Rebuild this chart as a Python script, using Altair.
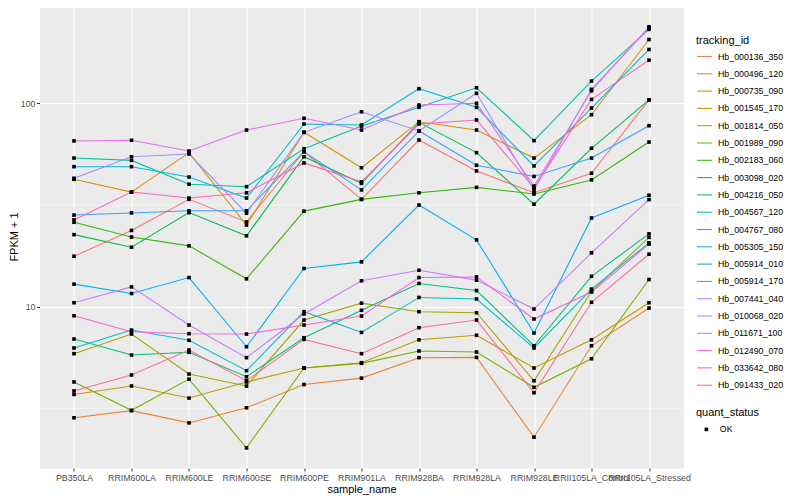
import altair as alt
import pandas as pd

samples = ["PB350LA", "RRIM600LA", "RRIM600LE", "RRIM600SE", "RRIM600PE", "RRIM901LA",
           "RRIM928BA", "RRIM928LA", "RRIM928LE", "RRII105LA_Control", "RRII105LA_Stressed"]

# FPKM + 1 per tracking id, one value per sample
hb_000136_350 = [17.7, 23.7, 33.7, 26.1, 57.8, 33.7, 66.0, 46.5, 36.3, 45.3, 104]
hb_000496_120 = [2.84, 3.08, 2.68, 3.18, 4.14, 4.45, 5.61, 5.63, 2.28, 6.42, 9.84]
hb_000735_090 = [42.3, 36.6, 57.2, 25.2, 72.0, 48.2, 81.2, 73.9, 53.8, 87.9, 206]
hb_001545_170 = [3.70, 4.07, 3.55, 4.26, 4.99, 5.30, 6.87, 7.23, 4.99, 6.87, 10.45]
hb_001814_050 = [5.87, 7.33, 4.66, 4.07, 8.59, 10.4, 9.44, 9.33, 4.32, 11.9, 21.9]
hb_001989_090 = [4.26, 3.09, 4.40, 2.02, 4.99, 5.26, 6.05, 5.98, 4.01, 5.54, 13.6]
hb_002183_060 = [26.0, 22.0, 19.9, 13.7, 29.5, 33.7, 36.3, 38.6, 35.8, 42.0, 64.5]
hb_003098_020 = [22.6, 19.6, 29.0, 22.3, 54.6, 40.4, 80.6, 57.2, 31.9, 60.1, 104]
hb_004216_050 = [6.93, 5.78, 5.96, 4.52, 7.03, 9.59, 13.0, 12.0, 6.42, 14.1, 22.8]
hb_004567_120 = [53.8, 52.4, 40.0, 38.9, 59.8, 77.3, 95.6, 119.3, 65.5, 128.7, 231]
hb_004767_080 = [6.26, 7.67, 6.83, 4.84, 9.44, 7.47, 11.1, 10.9, 6.26, 12.2, 20.6]
hb_005305_150 = [48.8, 48.8, 43.4, 34.2, 79.1, 78.2, 118.0, 95.6, 49.2, 94.8, 184]
hb_005914_010 = [12.9, 11.6, 13.9, 6.35, 15.4, 16.6, 31.6, 21.3, 7.42, 27.3, 35.3]
hb_005914_170 = [28.2, 28.9, 29.6, 29.6, 57.8, 37.5, 73.1, 49.6, 43.7, 53.8, 77.6]
hb_007441_040 = [42.8, 54.6, 56.3, 28.8, 72.0, 90.9, 73.1, 112.0, 37.5, 117.2, 235]
hb_010068_020 = [10.45, 12.5, 8.12, 5.61, 9.20, 13.4, 15.1, 13.5, 9.73, 18.4, 33.6]
hb_011671_100 = [65.3, 65.8, 58.3, 73.9, 84.4, 73.9, 98.1, 100, 39.2, 115.3, 238]
hb_012490_070 = [9.02, 7.53, 7.36, 7.33, 8.12, 8.99, 13.9, 14.0, 8.69, 11.8, 20.3]
hb_033642_080 = [26.7, 36.6, 34.2, 36.3, 50.9, 41.1, 79.1, 82.8, 38.3, 104.6, 163]
hb_091433_020 = [3.85, 4.61, 6.12, 4.32, 6.90, 5.87, 7.88, 8.59, 3.77, 10.5, 18.1]

tracking_ids = ["Hb_000136_350", "Hb_000496_120", "Hb_000735_090", "Hb_001545_170",
                "Hb_001814_050", "Hb_001989_090", "Hb_002183_060", "Hb_003098_020",
                "Hb_004216_050", "Hb_004567_120", "Hb_004767_080", "Hb_005305_150",
                "Hb_005914_010", "Hb_005914_170", "Hb_007441_040", "Hb_010068_020",
                "Hb_011671_100", "Hb_012490_070", "Hb_033642_080", "Hb_091433_020"]
series = [hb_000136_350, hb_000496_120, hb_000735_090, hb_001545_170, hb_001814_050,
          hb_001989_090, hb_002183_060, hb_003098_020, hb_004216_050, hb_004567_120,
          hb_004767_080, hb_005305_150, hb_005914_010, hb_005914_170, hb_007441_040,
          hb_010068_020, hb_011671_100, hb_012490_070, hb_033642_080, hb_091433_020]
palette = ["#F8766D", "#EA8331", "#D89000", "#C09B00", "#A3A500", "#7CAE00", "#39B600",
           "#00BB4E", "#00BF7D", "#00C1A3", "#00BFC4", "#00BAE0", "#00B0F6", "#35A2FF",
           "#9590FF", "#C77CFF", "#E76BF3", "#FA62DB", "#FF62BC", "#FF6C91"]
minor_breaks = [3.1623, 31.623]
major_breaks = [10, 100]

rows = []
for tid, vals in zip(tracking_ids, series):
    for s, v in zip(samples, vals):
        rows.append({"tracking_id": tid, "sample_name": s, "fpkm1": v, "quant_status": "OK"})
df = pd.DataFrame(rows)
minor_df = pd.DataFrame({"v": minor_breaks})

FONT = "Liberation Sans"

xenc = alt.X("sample_name:N", sort=samples,
             scale=alt.Scale(type="point", padding=0.6),
             axis=alt.Axis(title="sample_name", labelAngle=0, labelOverlap=False,
                           labelPadding=2, titlePadding=2, labelBound=False))
yscale = alt.Scale(type="log", domain=[1.608, 304.5], nice=False)
yenc = alt.Y("fpkm1:Q", scale=yscale,
             axis=alt.Axis(title="FPKM + 1", values=major_breaks, format="d",
                           labelPadding=1.5, titlePadding=1))

minor = alt.Chart(minor_df).mark_rule(color="white", strokeWidth=0.55).encode(
    y=alt.Y("v:Q", scale=yscale)
)

lines = alt.Chart(df).mark_line(strokeWidth=1.07).encode(
    x=xenc, y=yenc,
    color=alt.Color("tracking_id:N",
                    scale=alt.Scale(domain=tracking_ids, range=palette),
                    legend=alt.Legend(title="tracking_id", orient="none",
                                      legendX=656.5, legendY=30,
                                      symbolType="stroke", symbolSize=225,
                                      symbolStrokeWidth=1.07, rowPadding=3.3,
                                      titlePadding=2, labelOffset=5)),
)

points = alt.Chart(df).mark_point(filled=True, color="black", size=13, opacity=1).encode(
    x=xenc, y=yenc,
    shape=alt.Shape("quant_status:N",
                    scale=alt.Scale(domain=["OK"], range=["square"]),
                    legend=alt.Legend(title="quant_status", orient="none",
                                      legendX=656.5, legendY=402,
                                      symbolSize=13, symbolFillColor="black",
                                      symbolStrokeColor="black", symbolOffset=6,
                                      labelOffset=9, titlePadding=7)),
)

chart = alt.layer(minor, lines, points).properties(
    width=644, height=463,
    autosize=alt.AutoSizeParams(type="none"),
    padding={"left": 31.5, "top": -3, "right": 108.5, "bottom": 32},
).configure_view(
    fill="#EBEBEB", stroke="transparent"
).configure_axis(
    grid=True, gridColor="white", gridWidth=1.07, domain=False,
    tickColor="#333333", tickSize=3, tickWidth=1,
    labelColor="#4D4D4D", labelFontSize=8.8, labelFont=FONT,
    titleFont=FONT, titleFontSize=11, titleFontWeight="normal", titleColor="black",
).configure_legend(
    titleFont=FONT, titleFontSize=11, titleFontWeight="normal", titleColor="black",
    labelFont=FONT, labelFontSize=8.8, labelColor="black", padding=0,
)

chart.save("out.html", embed_options={"renderer": "svg", "actions": False})
